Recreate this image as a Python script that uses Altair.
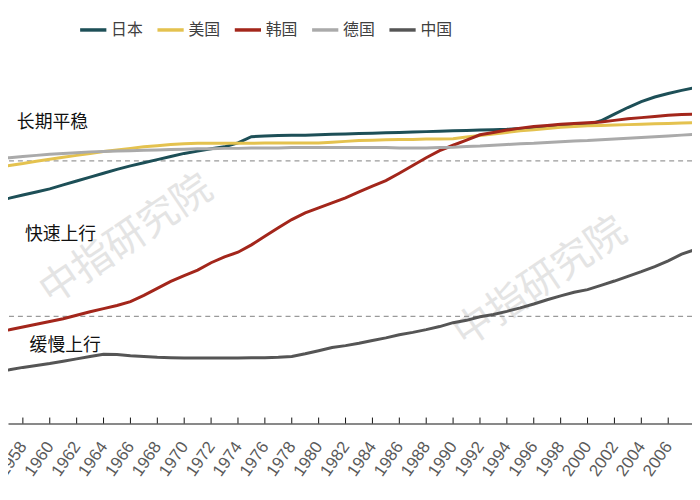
import altair as alt
import pandas as pd

# ---------------- data ----------------
years = list(range(1956, 2009))

japan = [59.7, 60.4, 61.2, 62.0, 62.8, 63.8, 64.8, 65.8, 66.8, 67.8,
         68.7, 69.5, 70.3, 71.1, 71.9, 72.5, 73.1, 73.6, 74.6, 76.2,
         76.4, 76.5, 76.6, 76.6, 76.7, 76.8, 76.9, 77.0, 77.1, 77.2,
         77.3, 77.4, 77.5, 77.6, 77.7, 77.8, 77.9, 78.0, 78.1, 78.3,
         78.4, 78.6, 78.8, 79.0, 79.2, 80.3, 82.0, 83.7, 85.2, 86.4,
         87.3, 88.1, 88.8]
usa = [68.2, 68.8, 69.3, 69.9, 70.4, 70.9, 71.4, 71.9, 72.4, 72.8,
       73.2, 73.6, 73.9, 74.2, 74.4, 74.5, 74.5, 74.5, 74.5, 74.5,
       74.6, 74.6, 74.6, 74.6, 74.6, 74.8, 75.0, 75.2, 75.3, 75.4,
       75.5, 75.5, 75.6, 75.6, 75.7, 76.1, 76.5, 76.9, 77.3, 77.7,
       78.0, 78.3, 78.6, 78.8, 79.0, 79.1, 79.2, 79.3, 79.4, 79.5,
       79.6, 79.7, 79.8]
korea = [26.0, 26.6, 27.3, 28.0, 28.7, 29.4, 30.3, 31.2, 32.0, 32.8,
         33.8, 35.4, 37.2, 39.0, 40.5, 41.9, 43.8, 45.3, 46.5, 48.4,
         50.6, 52.8, 54.9, 56.6, 57.9, 59.2, 60.5, 62.0, 63.5, 64.9,
         66.8, 68.8, 70.8, 72.6, 74.0, 75.3, 76.7, 77.3, 77.9, 78.4,
         78.8, 79.1, 79.4, 79.6, 79.8, 80.0, 80.4, 80.8, 81.1, 81.4,
         81.7, 81.9, 82.0]
germany = [70.4, 70.8, 71.1, 71.4, 71.7, 71.9, 72.1, 72.3, 72.4, 72.5,
           72.6, 72.7, 72.8, 72.9, 73.0, 73.1, 73.1, 73.2, 73.2, 73.3,
           73.3, 73.3, 73.4, 73.4, 73.4, 73.4, 73.4, 73.4, 73.4, 73.4,
           73.3, 73.3, 73.3, 73.4, 73.5, 73.7, 73.8, 74.0, 74.2, 74.4,
           74.5, 74.7, 74.9, 75.1, 75.2, 75.4, 75.6, 75.8, 76.0, 76.2,
           76.4, 76.6, 76.8]
china = [15.8, 16.3, 16.9, 17.4, 17.9, 18.5, 19.1, 19.7, 20.3, 20.2,
         19.9, 19.7, 19.5, 19.4, 19.3, 19.3, 19.3, 19.3, 19.3, 19.4,
         19.4, 19.5, 19.7, 20.4, 21.2, 22.0, 22.5, 23.1, 23.8, 24.5,
         25.3, 25.9, 26.6, 27.4, 28.4, 29.0, 29.9, 30.5, 31.3, 32.2,
         33.2, 34.3, 35.3, 36.2, 36.9, 38.0, 39.1, 40.3, 41.5, 42.8,
         44.3, 46.0, 47.2]

series_names = ["日本", "美国", "韩国", "德国", "中国"]
series_values = [japan, usa, korea, germany, china]
series_colors = ["#1d4f57", "#e4c24f", "#a3261b", "#aaaaaa", "#555555"]
draw_order = [2, 4, 1, 5, 3]  # z-order: Germany bottom, Korea top

tick_years = list(range(1958, 2007, 2))
guide_values = [30, 70]

note_text = ["长期平稳", "快速上行", "缓慢上行"]
note_year = [1957.55, 1958.15, 1958.5]
note_value = [79.7, 50.9, 22.4]

wm_text = ["中指研究院", "中指研究院"]
wm_year = [1965.7, 1996.5]
wm_value = [49.6, 38.7]

# ---------------- tables ----------------
rows = []
for name, vals, o in zip(series_names, series_values, draw_order):
    for yr, v in zip(years, vals):
        rows.append({"country": name, "year": yr, "value": v, "z": o})
lines_df = pd.DataFrame(rows)
ticks_df = pd.DataFrame({"year": tick_years})
guides_df = pd.DataFrame({"value": guide_values})
notes_df = pd.DataFrame({"label": note_text, "year": note_year, "value": note_value})
wm_df = pd.DataFrame({"label": wm_text, "year": wm_year, "value": wm_value})

W, H = 690, 417
xs = alt.Scale(domain=[1956.894, 2007.77], nice=False, zero=False)
ys = alt.Scale(domain=[2.48, 108.73], nice=False, zero=False)

xaxis = alt.Axis(values=tick_years, format="d", labelAngle=-55, title=None,
                 ticks=False, grid=False, domainColor="#111111", domainWidth=1,
                 labelColor="#5a5a5a", labelFontSize=17, labelFont="Liberation Sans",
                 labelPadding=20, labelOverlap=False, labelFlush=False, labelBound=False)

watermark = alt.Chart(wm_df).mark_text(
    angle=326, fontSize=40, font="Noto Sans CJK SC", color="#e4e4e4",
    align="center", baseline="middle"
).encode(
    x=alt.X("year:Q", scale=xs, axis=xaxis),
    y=alt.Y("value:Q", scale=ys, axis=None),
    text="label:N",
)

guides = alt.Chart(guides_df).mark_rule(
    color="#9a9a9a", strokeDash=[5, 4], strokeWidth=1.2
).encode(y=alt.Y("value:Q", scale=ys, axis=None))

ticks = alt.Chart(ticks_df).mark_rule(color="#111111", strokeWidth=1).encode(
    x=alt.X("year:Q", scale=xs, axis=xaxis),
    y=alt.value(H - 6),
    y2=alt.value(H),
)

lines = alt.Chart(lines_df).mark_line(strokeWidth=3, clip=True).encode(
    x=alt.X("year:Q", scale=xs, axis=xaxis),
    y=alt.Y("value:Q", scale=ys, axis=None),
    color=alt.Color(
        "country:N",
        scale=alt.Scale(domain=series_names, range=series_colors),
        legend=alt.Legend(
            orient="none", legendX=71, legendY=5, direction="horizontal",
            title=None, symbolType="stroke", symbolSize=700, symbolStrokeWidth=3.5,
            labelFont="Noto Sans CJK SC", labelFontSize=16, labelColor="#404040",
            gridAlign="all", columnPadding=6, labelOffset=3, padding=0,
        ),
    ),
    order=alt.Order("z:Q"),
    detail="country:N",
)

notes = alt.Chart(notes_df).mark_text(
    align="left", baseline="middle", fontSize=18, font="Noto Sans CJK SC", color="#111111"
).encode(
    x=alt.X("year:Q", scale=xs, axis=xaxis),
    y=alt.Y("value:Q", scale=ys, axis=None),
    text="label:N",
)

chart = alt.layer(watermark, guides, ticks, lines, notes).properties(
    width=W, height=H,
    autosize=alt.AutoSizeParams(type="none"),
    padding={"left": 0, "top": 0, "right": 0, "bottom": 74},
    background="white",
).configure_view(stroke=None)

chart.save("out.html", embed_options={"renderer": "svg", "actions": False})
